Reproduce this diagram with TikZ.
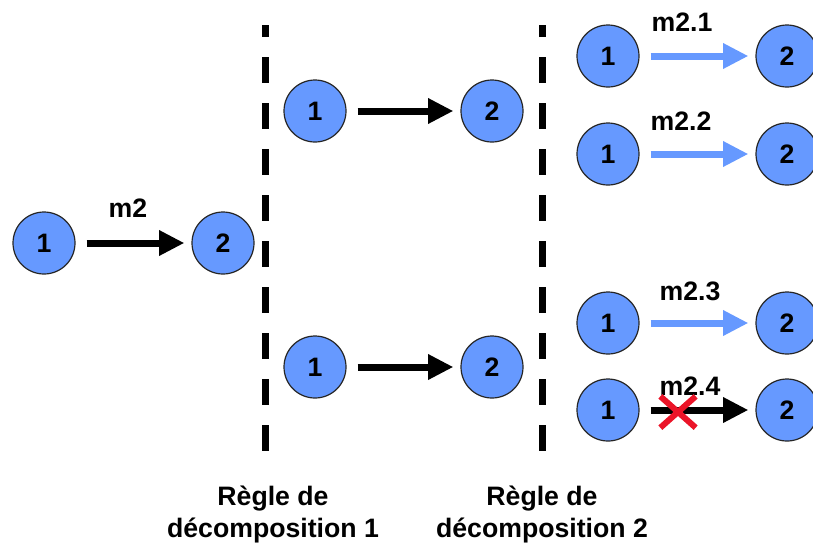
\documentclass[tikz,border=0pt]{standalone}
\usepackage{fontspec}
\setmainfont{Liberation Sans}
\usetikzlibrary{arrows.meta,shapes.misc}

\definecolor{etat}{RGB}{102,153,255}
\definecolor{croix}{RGB}{235,20,40}

\tikzset{
  etat/.style={circle, draw=black!85, line width=0.9pt, fill=etat, minimum size=46.5pt,
    inner sep=0pt, font=\bfseries\fontsize{20}{24}\selectfont},
  msg/.style={line width=5.25pt, -{Triangle[length=19pt,width=18pt]},
    shorten <=8.25pt, shorten >=5.25pt},
  msgbleu/.style={msg, draw=etat},
  lbl/.style={font=\bfseries\fontsize{20}{24}\selectfont, anchor=base, inner sep=0pt},
  separ/.style={line width=5.25pt, dash pattern=on 19.5pt off 15pt, dash phase=10.5pt}
}

\begin{document}
\begin{tikzpicture}[x=0.75pt, y=-0.75pt]
    \useasboundingbox (0,0) rectangle (813,544);
    % message de depart
    \node[etat] (a1) at (44,243) {1};
    \node[etat] (a2) at (223,243) {2};
    \draw[msg] (a1) -- (a2);
    \node[lbl] (m2) at (128,217) {m2};
    % regle 1
    \draw[separ] (265.5,25) -- (265.5,452);
    \node[etat] (b1) at (315,111) {1};
    \node[etat] (b2) at (492,111) {2};
    \node[etat] (c1) at (315,367) {1};
    \node[etat] (c2) at (492,367) {2};
    \draw[msg] (b1) -- (b2);
    \draw[msg] (c1) -- (c2);
    % regle 2
    \draw[separ] (542.5,25) -- (542.5,452);
    \node[etat] (d1) at (608,56) {1};
    \node[etat] (d2) at (787,56) {2};
    \node[etat] (e1) at (608,154) {1};
    \node[etat] (e2) at (787,154) {2};
    \node[etat] (f1) at (608,323) {1};
    \node[etat] (f2) at (787,323) {2};
    \node[etat] (g1) at (608,410) {1};
    \node[etat] (g2) at (787,410) {2};
    \draw[msgbleu] (d1) -- (d2);
    \draw[msgbleu] (e1) -- (e2);
    \draw[msgbleu] (f1) -- (f2);
    \draw[msg] (g1) -- (g2);
    \node[lbl] (m21) at (682,31) {m2.1};
    \node[lbl] (m22) at (681,130) {m2.2};
    \node[lbl] (m23) at (690,300) {m2.3};
    \node[lbl] (m24) at (690,395) {m2.4};
    \node[cross out, draw=croix, line width=4.5pt, minimum width=22pt, minimum height=19pt,
      inner sep=0pt] (x24) at (678,412) {};
    % legendes (base = derniere ligne)
    \node[lbl, align=center] (r1) at (273,537) {Règle de\\décomposition 1};
    \node[lbl, align=center] (r2) at (542,537) {Règle de\\décomposition 2};
\end{tikzpicture}
\end{document}
